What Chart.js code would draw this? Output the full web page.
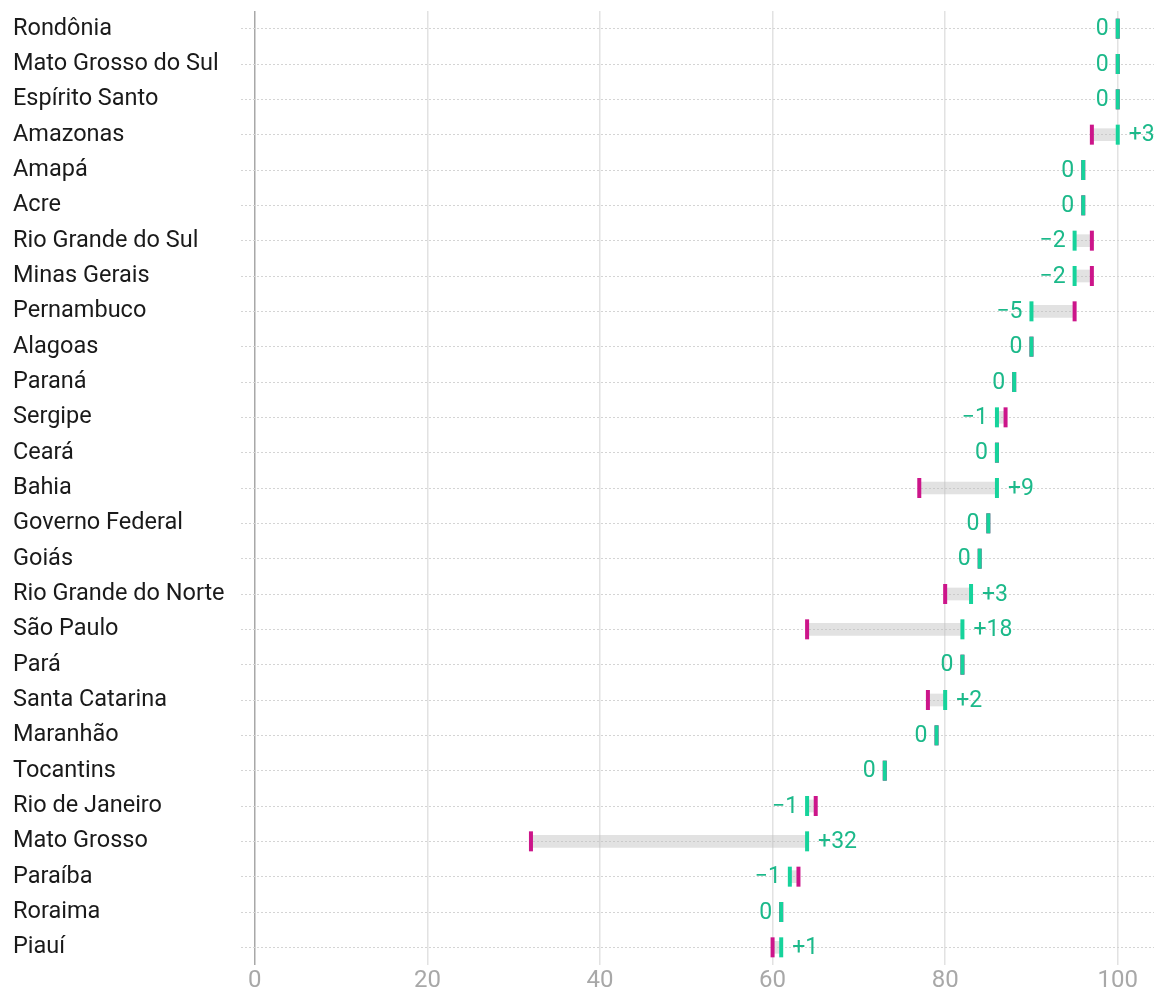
<!DOCTYPE html>
<html>
<head>
<meta charset="utf-8">
<script src="https://cdn.jsdelivr.net/npm/chart.js@4"></script>
<style>
  html, body { margin: 0; padding: 0; background: #fff; overflow: hidden; }
  #wrap { width: 1154px; height: 991px; }
</style>
</head>
<body>
<div id="wrap"><canvas id="chart"></canvas></div>
<script>
const states = ["Rondônia", "Mato Grosso do Sul", "Espírito Santo", "Amazonas", "Amapá", "Acre",
  "Rio Grande do Sul", "Minas Gerais", "Pernambuco", "Alagoas", "Paraná", "Sergipe", "Ceará",
  "Bahia", "Governo Federal", "Goiás", "Rio Grande do Norte", "São Paulo", "Pará",
  "Santa Catarina", "Maranhão", "Tocantins", "Rio de Janeiro", "Mato Grosso", "Paraíba",
  "Roraima", "Piauí"];
const before = [100, 100, 100, 97, 96, 96, 97, 97, 95, 90, 88, 87, 86, 77, 85, 84, 80, 64, 82, 78, 79, 73, 65, 32, 63, 61, 60];
const after = [100, 100, 100, 100, 96, 96, 95, 95, 90, 90, 88, 86, 86, 86, 85, 84, 83, 82, 82, 80, 79, 73, 64, 64, 62, 61, 61];
const xTicks = [0, 20, 40, 60, 80, 100];

const GREEN = "#16d39b";
const GREEN_TEXT = "#1cb98a";
const MAGENTA = "#cc158a";

Chart.defaults.font.family = "Roboto";
Chart.defaults.font.size = 23.5;

// labels showing the change next to the new value
const diffLabels = {
  id: "diffLabels",
  afterDatasetsDraw(chart) {
    const { ctx, scales } = chart;
    ctx.save();
    ctx.font = "23px Roboto";
    ctx.fillStyle = GREEN_TEXT;
    ctx.textBaseline = "middle";
    states.forEach((s, i) => {
      const d = after[i] - before[i];
      const x = scales.x.getPixelForValue(after[i]);
      const y = scales.y.getPixelForValue(i);
      if (d > 0) {
        ctx.textAlign = "left";
        ctx.fillText("+" + d, x + 11, y + 1);
      } else {
        ctx.textAlign = "right";
        ctx.fillText(d < 0 ? "\u2212" + (-d) : "0", x - 9, y + 1);
      }
    });
    ctx.restore();
  }
};

new Chart(document.getElementById("chart"), {
  type: "bar",
  data: {
    labels: states,
    datasets: [
      {
        data: states.map((s, i) => [before[i], after[i]]),
        backgroundColor: "rgba(190,190,190,0.45)",
        barThickness: 12,
        order: 3
      },
      {
        type: "scatter",
        data: states.map((s, i) => ({ x: before[i], y: s })),
        pointStyle: "line",
        rotation: 90,
        radius: 10,
        borderWidth: 4,
        borderColor: MAGENTA,
        backgroundColor: MAGENTA,
        order: 2
      },
      {
        type: "scatter",
        data: states.map((s, i) => ({ x: after[i], y: s })),
        pointStyle: "line",
        rotation: 90,
        radius: 10,
        borderWidth: 4,
        borderColor: GREEN,
        backgroundColor: GREEN,
        order: 1
      }
    ]
  },
  options: {
    indexAxis: "y",
    responsive: true,
    maintainAspectRatio: false,
    animation: false,
    layout: { autoPadding: false, padding: { left: 13, top: 11, right: 0, bottom: 0 } },
    plugins: { legend: { display: false }, tooltip: { enabled: false } },
    scales: {
      x: {
        type: "linear",
        min: -1.6,
        max: 104.2,
        afterBuildTicks: (scale) => { scale.ticks = xTicks.map(v => ({ value: v })); },
        afterFit: (scale) => {
          scale.height = 26;
          scale.paddingLeft = 0;
          scale.paddingRight = 0;
        },
        grid: {
          color: (c) => c.tick && c.tick.value === 0 ? "#a8a8a8" : "#e2e2e2",
          lineWidth: 1.5,
          drawTicks: false
        },
        border: { display: false },
        ticks: { color: "#a8a8a8", padding: 2, font: { size: 24 } }
      },
      y: {
        type: "category",
        offset: true,
        afterFit: (scale) => {
          scale.width = 228;
          scale.paddingTop = 0;
          scale.paddingBottom = 0;
        },
        grid: {
          offset: false,
          color: "#d4d4d4",
          lineWidth: 1,
          drawTicks: false
        },
        border: { display: false, dash: [2, 2] },
        ticks: { color: "#1a1a1a", crossAlign: "far", padding: 0, font: { size: 23.5 } }
      }
    }
  },
  plugins: [diffLabels]
});
</script>
</body>
</html>
